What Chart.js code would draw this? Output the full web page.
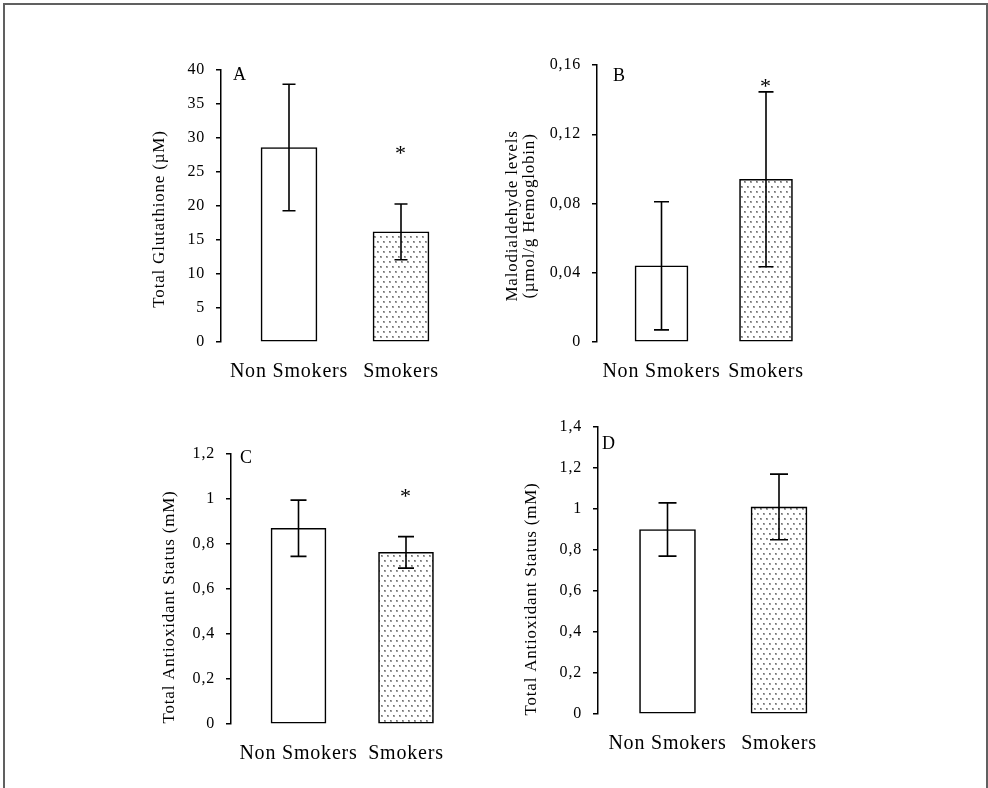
<!DOCTYPE html>
<html>
<head>
<meta charset="utf-8">
<script src="https://cdn.jsdelivr.net/npm/chart.js@4.4.1/dist/chart.umd.min.js"></script>
<style>
  body { margin: 0; background: #fff; width: 988px; height: 788px; overflow: hidden; position: relative; }
  #frame { position: absolute; left: 3px; top: 3px; width: 981px; height: 800px; border: 2px solid #606060; border-bottom: none; }
  canvas { position: absolute; }
</style>
</head>
<body>
<div id="frame"></div>
<canvas id="pA"></canvas>
<canvas id="pB"></canvas>
<canvas id="pC"></canvas>
<canvas id="pD"></canvas>
<script>
// data
const categories = ['Non Smokers', 'Smokers'];

const glutathione = [28.6, 16.2];
const glutathioneSd = [9.3, 4.1];
const glutathioneStars = [null, 28.2];
const glutathioneTicks = [0, 5, 10, 15, 20, 25, 30, 35, 40];

const mda = [0.044, 0.094];
const mdaSd = [0.037, 0.0505];
const mdaStars = [null, 0.1494];
const mdaTicks = [0, 0.04, 0.08, 0.12, 0.16];

const tasC = [0.87, 0.763];
const tasCSd = [0.125, 0.07];
const tasCStars = [null, 1.025];
const tasCTicks = [0, 0.2, 0.4, 0.6, 0.8, 1, 1.2];

const tasD = [0.90, 1.01];
const tasDSd = [0.13, 0.16];
const tasDStars = [null, null];
const tasDTicks = [0, 0.2, 0.4, 0.6, 0.8, 1, 1.2, 1.4];

Chart.defaults.font.family = "'Liberation Serif', serif";
Chart.defaults.color = '#000';

// dotted fill for the smokers bars
function dots() {
  const c = document.createElement('canvas');
  c.width = 6; c.height = 10;
  const g = c.getContext('2d');
  g.fillStyle = '#fff';
  g.fillRect(0, 0, 6, 10);
  g.fillStyle = '#a0a0a0';
  g.fillRect(1, 1, 2, 2);
  g.fillRect(4, 6, 2, 2);
  g.fillStyle = '#707070';
  g.fillRect(1, 1, 1, 1);
  g.fillRect(4, 6, 1, 1);
  return g.createPattern(c, 'repeat');
}

const panels = [
  { id: 'pA', letter: 'A', mean: glutathione, sd: glutathioneSd, stars: glutathioneStars, ticks: glutathioneTicks,
    title: ['Total Glutathione (\u00b5M)'],
    axisX: 221, topY: 70, zeroY: 342, c0: 289, sp: 112, bw: 56, cap: 6.5,
    titleDx: [-61], titleY: 219, letterDx: 12, letterDy: -4 },
  { id: 'pB', letter: 'B', mean: mda, sd: mdaSd, stars: mdaStars, ticks: mdaTicks,
    title: ['Malodialdehyde levels', '(\u00b5mol/g Hemoglobin)'],
    axisX: 597, topY: 65, zeroY: 342, c0: 661.5, sp: 104.5, bw: 53, cap: 7.5,
    titleDx: [-84, -67], titleY: 216, letterDx: 16, letterDy: 2 },
  { id: 'pC', letter: 'C', mean: tasC, sd: tasCSd, stars: tasCStars, ticks: tasCTicks,
    title: ['Total Antioxidant Status (mM)'],
    axisX: 231, topY: 454, zeroY: 724, c0: 298.5, sp: 107.5, bw: 55, cap: 8,
    titleDx: [-61], titleY: 607, letterDx: 9, letterDy: -5 },
  { id: 'pD', letter: 'D', mean: tasD, sd: tasDSd, stars: tasDStars, ticks: tasDTicks,
    title: ['Total Antioxidant Status (mM)'],
    axisX: 598, topY: 427, zeroY: 714, c0: 667.5, sp: 111.5, bw: 56, cap: 9,
    titleDx: [-66], titleY: 599, letterDx: 4, letterDy: 8 }
];

const spacing = {
  id: 'spacing',
  beforeUpdate(chart) { chart.ctx.letterSpacing = '0.8px'; },
  beforeDraw(chart) { chart.ctx.letterSpacing = '0.8px'; }
};

function marks(p) {
  return {
    id: 'marks',
    afterDatasetsDraw(chart) {
      const ctx = chart.ctx;
      const y = chart.scales.y;
      const area = chart.chartArea;
      ctx.save();
      ctx.strokeStyle = '#000';
      ctx.fillStyle = '#000';
      ctx.lineWidth = 1.6;
      chart.getDatasetMeta(0).data.forEach((bar, i) => {
        const top = y.getPixelForValue(p.mean[i] + p.sd[i]);
        const bot = y.getPixelForValue(p.mean[i] - p.sd[i]);
        ctx.beginPath();
        ctx.moveTo(bar.x, top); ctx.lineTo(bar.x, bot);
        ctx.moveTo(bar.x - p.cap, top); ctx.lineTo(bar.x + p.cap, top);
        ctx.moveTo(bar.x - p.cap, bot); ctx.lineTo(bar.x + p.cap, bot);
        ctx.stroke();
        if (p.stars[i] != null) {
          ctx.font = "22px 'Liberation Serif'";
          ctx.textAlign = 'center';
          ctx.textBaseline = 'middle';
          ctx.fillText('*', bar.x, y.getPixelForValue(p.stars[i]) + 4);
        }
      });
      // panel letter
      ctx.font = "18px 'Liberation Serif'";
      ctx.textAlign = 'left';
      ctx.textBaseline = 'top';
      ctx.fillText(p.letter, area.left + p.letterDx, area.top + p.letterDy);
      // axis title
      ctx.font = "17px 'Liberation Serif'";
      ctx.textAlign = 'center';
      ctx.textBaseline = 'middle';
      const canvasTop = p.topY - area.top;
      p.title.forEach((line, k) => {
        ctx.save();
        ctx.translate(area.left + p.titleDx[k], p.titleY - canvasTop);
        ctx.rotate(-Math.PI / 2);
        ctx.fillText(line, 0, 0);
        ctx.restore();
      });
      ctx.restore();
    }
  };
}

const YW = 100, PAD_T = 25, XH = 50;

panels.forEach(p => {
  const canvas = document.getElementById(p.id);
  const xmin = (p.axisX - p.c0) / p.sp;
  const plotW = Math.round((1.65 - xmin) * p.sp);
  const xmax = xmin + plotW / p.sp;
  canvas.width = YW + plotW;
  canvas.height = PAD_T + (p.zeroY - p.topY) + XH;
  canvas.style.left = (p.axisX - YW) + 'px';
  canvas.style.top = (p.topY - PAD_T) + 'px';
  const ymax = p.ticks[p.ticks.length - 1];

  new Chart(canvas, {
    type: 'bar',
    data: {
      datasets: [{
        data: p.mean.map((m, i) => ({ x: i, y: m })),
        backgroundColor: ['#fff', dots()],
        borderColor: '#000',
        borderWidth: 1.6,
        borderSkipped: false,
        barThickness: p.bw
      }]
    },
    options: {
      responsive: false,
      animation: false,
      layout: { padding: { top: PAD_T, left: 0, right: 0, bottom: 0 } },
      plugins: { legend: { display: false }, tooltip: { enabled: false } },
      scales: {
        x: {
          type: 'linear',
          offset: false,
          min: xmin,
          max: xmax,
          afterBuildTicks: s => { s.ticks = categories.map((c, i) => ({ value: i })); },
          afterFit: s => { s.height = XH; },
          grid: { display: false, drawTicks: false, offset: false },
          border: { display: false },
          ticks: {
            padding: 18,
            color: '#000',
            font: { size: 20 },
            maxRotation: 0,
            autoSkip: false,
            callback: v => categories[v] ?? ''
          }
        },
        y: {
          min: 0,
          max: ymax,
          afterBuildTicks: s => { s.ticks = p.ticks.map(v => ({ value: v })); },
          afterFit: s => { s.width = YW; },
          grid: { drawOnChartArea: false, tickLength: 5, color: '#000', lineWidth: 1.5 },
          border: { color: '#000', width: 1.5 },
          ticks: {
            padding: 11,
            color: '#000',
            font: { size: 16 },
            callback: v => String(+v.toFixed(2)).replace('.', ',')
          }
        }
      }
    },
    plugins: [spacing, marks(p)]
  });
});
</script>
</body>
</html>
